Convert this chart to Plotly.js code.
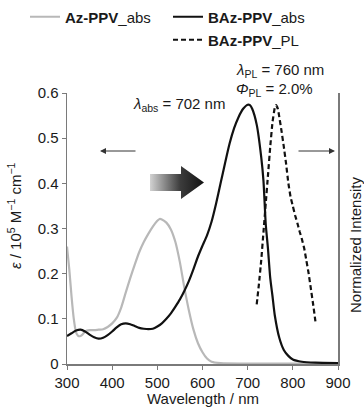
<!DOCTYPE html>
<html>
<head>
<meta charset="utf-8">
<script src="https://cdn.plot.ly/plotly-3.0.1.min.js"></script>
<style>html,body{margin:0;padding:0;background:#fff;}#chart{width:364px;height:407px;}</style>
</head>
<body>
<div id="chart"></div>
<script>
// ---- data ----
const wlAz = [300,305,310,315,320,325,330,335,340,350,360,370,380,390,400,410,420,430,440,450,460,470,480,490,500,505,510,520,530,540,550,560,570,580,590,600,610,620,640,700,800,900];
const epsAz = [0.26,0.21,0.15,0.10,0.07,0.062,0.062,0.066,0.072,0.075,0.075,0.076,0.077,0.082,0.09,0.102,0.125,0.158,0.19,0.22,0.248,0.27,0.288,0.304,0.317,0.321,0.32,0.313,0.298,0.27,0.225,0.168,0.118,0.076,0.046,0.026,0.012,0.005,0.002,0.001,0.001,0.001];

const wlBAz = [300,310,320,330,340,350,360,370,380,390,400,410,420,430,440,450,460,470,480,490,500,510,520,530,540,550,560,570,580,590,600,610,620,630,640,650,660,670,680,690,700,705,710,720,730,735,740,745,750,755,760,770,780,790,800,820,850,900];
const epsBAz = [0.062,0.068,0.074,0.076,0.072,0.065,0.059,0.056,0.058,0.064,0.072,0.081,0.088,0.09,0.088,0.084,0.08,0.078,0.077,0.078,0.083,0.09,0.1,0.112,0.127,0.143,0.162,0.184,0.21,0.238,0.262,0.285,0.315,0.355,0.4,0.445,0.488,0.522,0.547,0.565,0.574,0.573,0.565,0.53,0.458,0.405,0.31,0.255,0.19,0.15,0.108,0.058,0.031,0.018,0.01,0.005,0.003,0.002];

const wlPL = [720,725,730,735,740,745,750,755,760,763,767,770,775,780,785,790,795,800,805,810,815,820,825,830,835,840,845,850];
const intPL = [0.23,0.31,0.40,0.51,0.62,0.73,0.84,0.935,0.99,1.0,0.985,0.955,0.90,0.84,0.775,0.70,0.645,0.61,0.575,0.545,0.512,0.483,0.448,0.40,0.35,0.29,0.23,0.165];

const xTicks = [300,400,500,600,700,800,900];
const yTicks = [0,0.1,0.2,0.3,0.4,0.5,0.6];
const yTickText = ['0','0.1','0.2','0.3','0.4','0.5','0.6'];

// ---- layout helpers ----
const W = 364, H = 407, L = 67, R = 26, T = 93, B = 43;
const pw = W - L - R, ph = H - T - B;
const px = v => (v - L) / pw;          // pixel x -> paper x
const py = v => (H - B - v) / ph;      // pixel y -> paper y
const FONT = '"Liberation Sans", Arial, sans-serif';
const TXT = '#1a1a1a';

const traces = [
  {x: wlAz, y: epsAz, type: 'scatter', mode: 'lines', name: '<b>Az-PPV</b>_abs',
   line: {color: '#b8b8b8', width: 2.2, shape: 'spline', smoothing: 0.6}, legend: 'legend'},
  {x: wlBAz, y: epsBAz, type: 'scatter', mode: 'lines', name: '<b>BAz-PPV</b>_abs',
   line: {color: '#111', width: 2.2, shape: 'spline', smoothing: 0.6}, legend: 'legend2'},
  {x: wlPL, y: intPL, type: 'scatter', mode: 'lines', name: '<b>BAz-PPV</b>_PL', yaxis: 'y2',
   line: {color: '#111', width: 2.2, dash: '5px,3px', shape: 'spline', smoothing: 0.3}, legend: 'legend3'}
];

const arrowSvg = '<svg xmlns="http://www.w3.org/2000/svg" width="55" height="33" viewBox="0 0 55 33">' +
  '<defs><linearGradient id="g" x1="0" y1="0" x2="55" y2="0" gradientUnits="userSpaceOnUse">' +
  '<stop offset="0" stop-color="#d2d2d2"/><stop offset="0.55" stop-color="#3c3c3c"/><stop offset="1" stop-color="#111"/>' +
  '</linearGradient></defs>' +
  '<polygon points="0,8 31,8 31,0 54,16.5 31,33 31,25 0,25" fill="url(#g)"/></svg>';

const legendBase = {font: {family: FONT, size: 15, color: TXT}, bgcolor: 'rgba(0,0,0,0)',
  xanchor: 'left', yanchor: 'middle', itemclick: false};

const layout = {
  width: W, height: H,
  margin: {l: L, r: R, t: T, b: B, pad: 0, autoexpand: false},
  paper_bgcolor: '#fff', plot_bgcolor: '#fff',
  font: {family: FONT, size: 15, color: TXT},
  showlegend: true,
  legend: Object.assign({}, legendBase, {x: px(25), y: py(17)}),
  legend2: Object.assign({}, legendBase, {x: px(168), y: py(17)}),
  legend3: Object.assign({}, legendBase, {x: px(168), y: py(40)}),
  xaxis: {range: [300, 900], tickvals: xTicks, ticktext: xTicks.map(String),
    showline: true, linecolor: '#7a7a7a', linewidth: 1.5, ticks: 'outside', ticklen: 4,
    tickcolor: '#7a7a7a', showgrid: false, zeroline: false, fixedrange: true, automargin: false,
    tickfont: {family: FONT, size: 15, color: TXT}},
  yaxis: {range: [0, 0.6], tickvals: yTicks, ticktext: yTickText,
    showline: true, linecolor: '#7a7a7a', linewidth: 1.5, ticks: 'outside', ticklen: 4,
    tickcolor: '#7a7a7a', showgrid: false, zeroline: false, fixedrange: true, automargin: false,
    tickfont: {family: FONT, size: 15, color: TXT}},
  yaxis2: {range: [0, 0.6/0.573], overlaying: 'y', side: 'right', anchor: 'x',
    showline: true, linecolor: '#7a7a7a', linewidth: 1.5, ticks: '', showticklabels: false,
    showgrid: false, zeroline: false, fixedrange: true, automargin: false},
  annotations: [
    {xref: 'paper', yref: 'paper', x: 0.5, y: py(398), text: 'Wavelength / nm', showarrow: false,
     xanchor: 'center', yanchor: 'middle', font: {size: 15}},
    {xref: 'paper', yref: 'paper', x: px(14), y: py(216), text: '<i>ε</i> / 10<sup>5</sup> M<sup>−1</sup> cm<sup>−1</sup>',
     showarrow: false, textangle: -90, xanchor: 'center', yanchor: 'middle', font: {size: 15}},
    {xref: 'paper', yref: 'paper', x: px(355), y: py(245), text: 'Normalized Intensity',
     showarrow: false, textangle: -90, xanchor: 'center', yanchor: 'middle', font: {size: 15}},
    {xref: 'paper', yref: 'paper', x: px(131), y: py(104), text: '<i>λ</i><sub>abs</sub> = 702 nm',
     showarrow: false, xanchor: 'left', yanchor: 'middle', font: {size: 15}},
    {xref: 'paper', yref: 'paper', x: px(234), y: py(70), text: '<i>λ</i><sub>PL</sub> = 760 nm',
     showarrow: false, xanchor: 'left', yanchor: 'middle', font: {size: 15}},
    {xref: 'paper', yref: 'paper', x: px(234), y: py(89), text: '<i>Φ</i><sub>PL</sub> = 2.0%',
     showarrow: false, xanchor: 'left', yanchor: 'middle', font: {size: 15}},
    // left arrow
    {xref: 'paper', yref: 'paper', x: px(100), y: py(151), ax: 37, ay: 0, text: '', showarrow: true,
     arrowhead: 2, arrowsize: 1.2, arrowwidth: 1, arrowcolor: '#333'},
    // right arrow
    {xref: 'paper', yref: 'paper', x: px(335), y: py(151), ax: -38, ay: 0, text: '', showarrow: true,
     arrowhead: 2, arrowsize: 1.2, arrowwidth: 1, arrowcolor: '#333'}
  ],
  images: [
    {source: 'data:image/svg+xml;charset=utf-8,' + encodeURIComponent(arrowSvg),
     xref: 'paper', yref: 'paper', x: px(150), y: py(166), sizex: 55/pw, sizey: 33/ph,
     xanchor: 'left', yanchor: 'top', sizing: 'stretch', layer: 'above'}
  ]
};

Plotly.newPlot('chart', traces, layout, {displayModeBar: false, staticPlot: true});
</script>
</body>
</html>
